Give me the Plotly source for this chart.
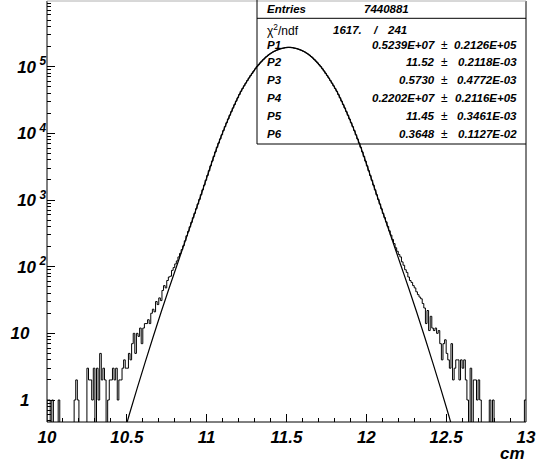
import plotly.graph_objects as go

# ---------------- data ----------------
bin_start = 10.0
bin_width = 0.01

counts_left_tail = [  # 10.00 - 10.86
    1, 1, 0, 1, 0, 0, 0, 1, 0, 0,
    0, 0, 0, 0, 0, 0, 0, 1, 2, 1,
    0, 0, 0, 0, 0, 3, 2, 2, 1, 3,
    0, 3, 1, 5, 2, 3, 2, 0, 1, 2,
    2, 3, 2, 3, 1, 2, 2, 3, 4, 3,
    3, 5, 4, 7, 10, 5, 10, 9, 12, 7,
    12, 14, 14, 16, 14, 20, 23, 21, 30, 27,
    34, 31, 44, 52, 48, 62, 70, 72, 88, 97,
    110, 122, 140, 158, 180, 206, 244]
counts_core = [  # 10.87 - 12.18
    290, 338, 395, 462, 541, 630, 740, 870, 1020, 1200,
    1420, 1670, 1980, 2330, 2750, 3250, 3830, 4500, 5270, 6170,
    7130, 8240, 9500, 11000, 12600, 14400, 16400, 18700, 21200, 24000,
    27000, 30400, 34100, 38200, 42700, 47000, 51600, 56600, 61900, 67600,
    73500, 79400, 86100, 92900, 100000, 106700, 113800, 120800, 127600, 134900,
    141900, 148600, 154900, 160300, 166000, 170600, 175000, 179100, 182800, 186200,
    188400, 190500, 192800, 195000, 195000, 195000, 192800, 190500, 188400, 186200,
    182800, 179100, 175000, 170600, 166000, 160300, 154900, 148600, 141900, 134900,
    127600, 120800, 113800, 106700, 100000, 92900, 86100, 79400, 73500, 67600,
    61900, 56600, 51600, 47000, 42700, 38200, 34100, 30400, 27000, 24000,
    21200, 18700, 16400, 14400, 12600, 11000, 9500, 8240, 7130, 6170,
    5270, 4500, 3830, 3250, 2750, 2330, 1980, 1670, 1420, 1200,
    1020, 870, 740, 630, 545, 470, 402, 345, 298, 256,
    222, 192]
counts_right_tail = [  # 12.19 - 12.99
    170, 152, 140, 118, 105, 90, 82, 70, 62, 58,
    52, 48, 42, 38, 35, 33, 28, 24, 14, 22,
    11, 18, 12, 11, 12, 10, 11, 7, 4, 7,
    8, 5, 4, 3, 7, 2, 3, 4, 4, 2,
    4, 3, 4, 2, 1, 0, 3, 0, 2, 2,
    1, 2, 1, 0, 0, 0, 0, 0, 1, 0,
    1, 0, 0, 0, 0, 0, 0, 0, 0, 0,
    0, 0, 0, 0, 0, 0, 0, 0, 0, 0,
    1]
counts = counts_left_tail + counts_core + counts_right_tail

fit_x = [10.465, 10.515, 10.565, 10.615, 10.665, 10.715, 10.765, 10.815, 10.865, 10.915,
         10.965, 11.015, 11.065, 11.115, 11.165, 11.215, 11.265, 11.315, 11.365, 11.415,
         11.465, 11.515, 11.565, 11.615, 11.665, 11.715, 11.765, 11.815, 11.865, 11.915,
         11.965, 12.015, 12.065, 12.115, 12.165, 12.215, 12.265, 12.315, 12.365, 12.415,
         12.465, 12.515, 12.565]
fit_y = [0.23, 0.60, 1.51, 3.7, 8.9, 20.9, 47.9, 107, 240, 537,
         1200, 2750, 6170, 12600, 24000, 42700, 67600, 100000, 134900, 166000,
         186200, 195000, 186200, 166000, 134900, 100000, 67600, 42700, 24000, 12600,
         6170, 2750, 1200, 537, 240, 107, 47.9, 20.9, 8.9, 3.7,
         1.51, 0.60, 0.23]

x_ticks = [10, 10.5, 11, 11.5, 12, 12.5, 13]
x_ticktext = ["10", "10.5", "11", "11.5", "12", "12.5", "13"]
y_ticks = [1, 10, 100, 1000, 10000, 100000]
y_base = ["1", "10", "10", "10", "10", "10"]
y_exp = ["", "", "2", "3", "4", "5"]

stats_entries = "7440881"
stats_chi2 = "1617."
stats_ndf = "241"
par_names = ["P1", "P2", "P3", "P4", "P5", "P6"]
par_values = ["0.5239E+07", "11.52", "0.5730", "0.2202E+07", "11.45", "0.3648"]
par_errors = ["0.2126E+05", "0.2118E-03", "0.4772E-03", "0.2116E+05", "0.3461E-03", "0.1127E-02"]

# ---------------- figure ----------------
W, H = 543, 466
L, R, T, B = 47, 526, 1, 422

def xp(px):
    return (px - L) / (R - L)

def yp(py):
    return (B - py) / (B - T)

n = len(counts)
edges = [bin_start + i * bin_width for i in range(n + 1)]
plot_vals = [c if c > 0 else 0.05 for c in counts]
hx = [bin_start] + edges
hy = [0.05] + plot_vals + [plot_vals[-1]]

fig = go.Figure()
fig.add_trace(go.Scatter(x=hx, y=hy, mode="lines", line=dict(color="black", width=1, shape="hv"),
                         hoverinfo="skip"))
fig.add_trace(go.Scatter(x=fit_x, y=fit_y, mode="lines",
                         line=dict(color="black", width=1.2, shape="spline", smoothing=1.0),
                         hoverinfo="skip"))

FONT = "Liberation Sans, Arial, Helvetica, sans-serif"
tickfont = dict(family=FONT, size=17, color="black", weight="bold", style="italic")

# y tick labels: base right-aligned, exponent hanging (invisible placeholder where absent)
y_ticktext = []
for b, e in zip(y_base, y_exp):
    if e:
        y_ticktext.append(b + "<sup> " + e + "</sup>")
    else:
        y_ticktext.append(b + "<span style='color:rgba(0,0,0,0)'><sup> 00</sup></span>")

minor_y = [k * 10 ** e for e in range(-1, 6) for k in range(2, 10)]

fig.update_layout(
    width=W, height=H,
    margin=dict(l=L, r=W - R, t=T, b=H - B),
    paper_bgcolor="white", plot_bgcolor="white",
    showlegend=False,
    hovermode=False,
    xaxis=dict(range=[10, 13], tickmode="array", tickvals=x_ticks, ticktext=x_ticktext,
               ticks="inside", ticklen=8, tickwidth=1, tickcolor="black",
               minor=dict(ticks="inside", ticklen=4, tickwidth=1, tickcolor="black",
                          tickmode="linear", tick0=10, dtick=0.1, showgrid=False),
               showgrid=False, zeroline=False, showline=False, tickfont=tickfont,
               ticklabelstandoff=3),
    yaxis=dict(type="log", range=[-0.33, 5.985], tickmode="array", tickvals=y_ticks,
               ticktext=y_ticktext, ticks="inside", ticklen=8, tickwidth=1, tickcolor="black",
               minor=dict(ticks="inside", ticklen=4, tickwidth=1, tickcolor="black",
                          tickmode="array", tickvals=minor_y, showgrid=False),
               showgrid=False, zeroline=False, showline=False, tickfont=tickfont),
)

shapes = []
def line(x0, y0, x1, y1, color="black", w=1):
    shapes.append(dict(type="line", xref="paper", yref="paper", x0=xp(x0), y0=yp(y0),
                       x1=xp(x1), y1=yp(y1), line=dict(color=color, width=w)))

# frame
line(L, B, R, B)
line(L, T, L, B)
line(R, T, R, B)
line(L, T, R, T, color="#b0b0b0")
# stats box
line(257, 0, 257, 144)
line(257, 144, R, 144)
line(257, 18.3, R, 18.3)
fig.update_layout(shapes=shapes)

ann = []
bfont = dict(family=FONT, size=11.5, color="black", weight="bold", style="italic")
rfont = dict(family=FONT, size=12, color="black")

def text(px, py, s, anchor="left", font=bfont):
    ann.append(dict(xref="paper", yref="paper", x=xp(px), y=yp(py), text=s, showarrow=False,
                    xanchor=anchor, yanchor="middle", font=font, borderpad=0))

text(266, 9, "Entries")
text(386, 9, stats_entries, anchor="center")
text(266, 29.5, "\u03c7<sup>2</sup>/ndf", font=rfont)
text(332, 29.5, stats_chi2)
text(376, 29.5, "/", anchor="center")
text(408, 29.5, stats_ndf, anchor="right")
rows_y = [44.7, 62, 80, 98, 115.7, 133.5]
for name, v, e, y in zip(par_names, par_values, par_errors, rows_y):
    text(266, y, name)
    text(436, y, v, anchor="right")
    text(444, y, "\u00b1", anchor="center", font=rfont)
    text(518, y, e, anchor="right")

# axis title
ann.append(dict(xref="paper", yref="paper", x=1.0, y=yp(453), text="cm", showarrow=False,
                xanchor="right", yanchor="middle", borderpad=0,
                font=dict(family=FONT, size=17, color="black", weight="bold", style="italic")))
fig.update_layout(annotations=ann)

fig.write_html("out.html", config={"displayModeBar": False, "staticPlot": True},
               post_script="document.body.style.margin='0px';")
